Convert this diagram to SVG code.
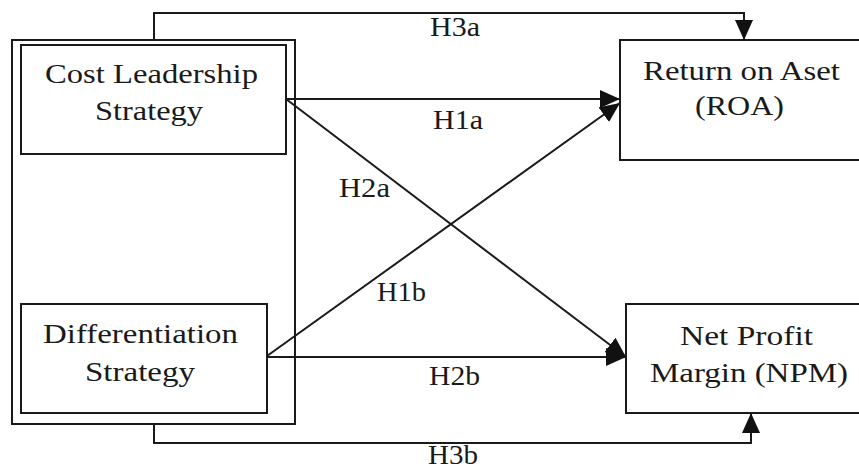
<svg xmlns="http://www.w3.org/2000/svg" width="859" height="470" viewBox="0 0 859 470">
<style>
.box{fill:#fff;stroke:#1a1a1a;stroke-width:2}
.frame{fill:none;stroke:#1a1a1a;stroke-width:2}
.c{fill:none;stroke:#1a1a1a;stroke-width:2}
.t{font-family:"Liberation Serif","Times New Roman",serif;font-size:28px;fill:#1a1a1a}
.l{font-family:"Liberation Serif","Times New Roman",serif;font-size:27px;fill:#1a1a1a}
</style>
<defs>
<marker id="arr" markerUnits="userSpaceOnUse" markerWidth="20" markerHeight="18" refX="20" refY="9" orient="auto">
<path d="M0,0 L20,9 L0,18 z" fill="#111"/>
</marker>
</defs>
<rect width="859" height="470" fill="#fff"/>
<g id="frame">
<rect class="frame" x="12" y="40" width="283" height="384"/>
</g>
<g id="connectors">
<polyline class="c" points="154,40 154,13 744,13 744,40" marker-end="url(#arr)"/>
<polyline class="c" points="154,424 154,443 751,443 751,413" marker-end="url(#arr)"/>
<line class="c" x1="286" y1="99" x2="620" y2="99" marker-end="url(#arr)"/>
<line class="c" x1="286" y1="99" x2="626" y2="357" marker-end="url(#arr)"/>
<line class="c" x1="267" y1="356" x2="620" y2="103" marker-end="url(#arr)"/>
<line class="c" x1="267" y1="357" x2="626" y2="357" marker-end="url(#arr)"/>
<text class="l" x="430" y="36" textLength="50" lengthAdjust="spacingAndGlyphs">H3a</text>
<text class="l" x="433" y="129" textLength="50" lengthAdjust="spacingAndGlyphs">H1a</text>
<text class="l" x="339" y="197" textLength="51" lengthAdjust="spacingAndGlyphs">H2a</text>
<text class="l" x="377" y="301" textLength="49" lengthAdjust="spacingAndGlyphs">H1b</text>
<text class="l" x="429" y="385" textLength="51" lengthAdjust="spacingAndGlyphs">H2b</text>
<text class="l" x="428" y="464" textLength="50" lengthAdjust="spacingAndGlyphs">H3b</text>
</g>
<g id="cost">
<rect class="box" x="21" y="45" width="265" height="109"/>
<text class="t" x="45" y="83" textLength="213" lengthAdjust="spacingAndGlyphs">Cost Leadership</text>
<text class="t" x="95" y="120" textLength="108" lengthAdjust="spacingAndGlyphs">Strategy</text>
</g>
<g id="diff">
<rect class="box" x="21" y="304" width="246" height="109"/>
<text class="t" x="43" y="343" textLength="195" lengthAdjust="spacingAndGlyphs">Differentiation</text>
<text class="t" x="85" y="381" textLength="110" lengthAdjust="spacingAndGlyphs">Strategy</text>
</g>
<g id="roa">
<rect class="box" x="620" y="40" width="242" height="120"/>
<text class="t" x="643" y="80" textLength="197" lengthAdjust="spacingAndGlyphs">Return on Aset</text>
<text class="t" x="695" y="115" textLength="89" lengthAdjust="spacingAndGlyphs">(ROA)</text>
</g>
<g id="npm">
<rect class="box" x="626" y="304" width="236" height="109"/>
<text class="t" x="680" y="345" textLength="133" lengthAdjust="spacingAndGlyphs">Net Profit</text>
<text class="t" x="650" y="382" textLength="198" lengthAdjust="spacingAndGlyphs">Margin (NPM)</text>
</g>
</svg>
